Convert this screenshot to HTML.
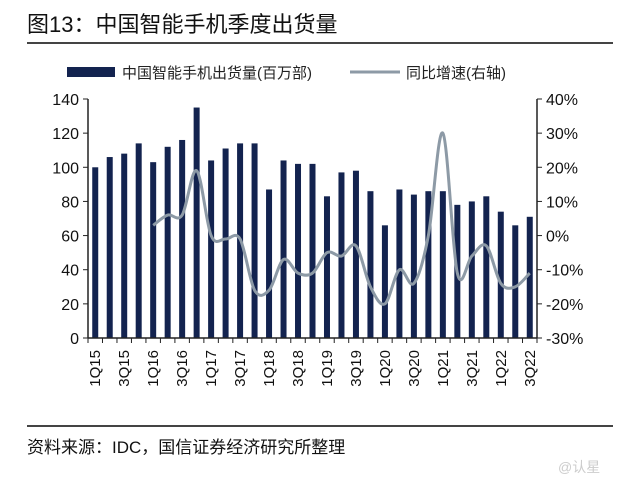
<!DOCTYPE html>
<html><head><meta charset="utf-8"><style>
body{margin:0;background:#fff;width:640px;height:486px;overflow:hidden;font-family:"Liberation Sans","Noto Sans CJK SC",sans-serif}
</style></head><body>
<svg width="640" height="486" xmlns="http://www.w3.org/2000/svg" font-family="Liberation Sans, Noto Sans CJK SC, sans-serif">
<text x="27" y="32" font-size="22" fill="#111">图13：中国智能手机季度出货量</text>
<rect x="27" y="42" width="586" height="2" fill="#444"/>
<g>
<rect x="67" y="67" width="48" height="10" fill="#13234f"/>
<text x="122" y="78" font-size="15" fill="#222">中国智能手机出货量(百万部)</text>
<line x1="350" y1="72" x2="400" y2="72" stroke="#8d9aa6" stroke-width="3"/>
<text x="406" y="78" font-size="15" fill="#222">同比增速(右轴)</text>
</g>
<g id="plot"></g>
<rect x="27" y="425" width="586" height="2" fill="#444"/>
<text x="27" y="453" font-size="17" fill="#111">资料来源：IDC，国信证券经济研究所整理</text>
<text x="558" y="472" font-size="14" fill="#ccc">@认星</text>
</svg>
<script>
const categories=["1Q15","2Q15","3Q15","4Q15","1Q16","2Q16","3Q16","4Q16","1Q17","2Q17","3Q17","4Q17","1Q18","2Q18","3Q18","4Q18","1Q19","2Q19","3Q19","4Q19","1Q20","2Q20","3Q20","4Q20","1Q21","2Q21","3Q21","4Q21","1Q22","2Q22","3Q22"];
const shipments=[100,106,108,114,103,112,116,135,104,111,114,114,87,104,102,102,83,97,98,86,66,87,84,86,86,78,80,83,74,66,71];
const growth=[null,null,null,null,3,6,6,19,0,-1,-1,-16,-16,-7,-11,-11,-5,-6,-3,-15,-20,-10,-14,0,30,-11,-6,-3,-14,-15,-11];
const leftTicks=[0,20,40,60,80,100,120,140];
const rightTicks=[-30,-20,-10,0,10,20,30,40];
const NS="http://www.w3.org/2000/svg";
const g=document.getElementById('plot');
const X0=88,X1=537,Y0=338,Y1=99;
const step=(X1-X0)/categories.length;
const xs=i=>X0+step*(i+0.5);
const yL=v=>Y0-(v-0)/(140-0)*(Y0-Y1);
const yR=v=>Y0-(v+30)/(70)*(Y0-Y1);
function mk(t,a){const e=document.createElementNS(NS,t);for(const k in a)e.setAttribute(k,a[k]);g.appendChild(e);return e;}
shipments.forEach((v,i)=>{const r=mk('rect',{x:xs(i)-3,y:yL(v),width:6,height:Y0-yL(v),fill:'#13234f'});

});
// line
const pts=[];growth.forEach((v,i)=>{if(v!==null)pts.push([xs(i),yR(v)]);});
let d='M'+pts[0][0]+','+pts[0][1];
for(let i=0;i<pts.length-1;i++){const p0=pts[Math.max(0,i-1)],p1=pts[i],p2=pts[i+1],p3=pts[Math.min(pts.length-1,i+2)];
const c1=[p1[0]+(p2[0]-p0[0])/6,p1[1]+(p2[1]-p0[1])/6],c2=[p2[0]-(p3[0]-p1[0])/6,p2[1]-(p3[1]-p1[1])/6];
d+=` C${c1[0]},${c1[1]} ${c2[0]},${c2[1]} ${p2[0]},${p2[1]}`;}
const ln=mk('path',{d:d,fill:'none',stroke:'#8d9aa6','stroke-width':3});


// axes
const al=mk('line',{x1:X0,y1:Y1,x2:X0,y2:Y0,stroke:'#222','stroke-width':1.5});


const ar=mk('line',{x1:X1,y1:Y1,x2:X1,y2:Y0,stroke:'#222','stroke-width':1.5});


const ax=mk('line',{x1:X0,y1:Y0,x2:X1,y2:Y0,stroke:'#222','stroke-width':1.5});


leftTicks.forEach(v=>{mk('line',{x1:X0-5,y1:yL(v),x2:X0,y2:yL(v),stroke:'#222'});
const t=mk('text',{x:X0-9,y:yL(v)+6,'font-size':16,'text-anchor':'end',fill:'#111'});t.textContent=v;

});
rightTicks.forEach(v=>{mk('line',{x1:X1,y1:yR(v),x2:X1+5,y2:yR(v),stroke:'#222'});
const t=mk('text',{x:X1+9,y:yR(v)+6,'font-size':16,fill:'#111'});t.textContent=v+'%';

});
for(let i=0;i<=categories.length;i++){mk('line',{x1:X0+step*i,y1:Y0,x2:X0+step*i,y2:Y0+5,stroke:'#222'});}
categories.forEach((c,i)=>{if(i%2)return;const x=xs(i)+5,y=350;
const t=mk('text',{x:x,y:y,'font-size':15,fill:'#111','text-anchor':'end',transform:`rotate(-90 ${x} ${y})`});t.textContent=c;

});
</script>
</body></html>
